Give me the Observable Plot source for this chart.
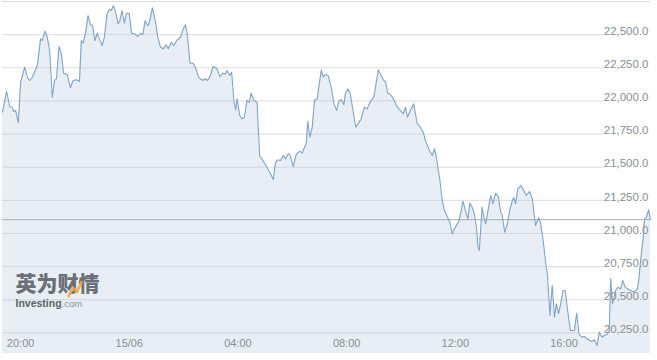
<!DOCTYPE html>
<html>
<head>
<meta charset="utf-8">
<script src="https://cdn.jsdelivr.net/npm/d3@7"></script>
<script src="https://cdn.jsdelivr.net/npm/@observablehq/plot@0.6"></script>
<style>
  html, body { margin: 0; padding: 0; background: #fff; }
  #chart svg { display: block; }
</style>
</head>
<body>
<div id="chart"></div>
<script>
// Intraday session shown on the chart: 14/06 19:20 → 15/06 19:11
const sessionStart = Date.UTC(2023, 5, 14, 19, 20);
const sessionEnd = Date.UTC(2023, 5, 15, 19, 11);

// Minutes elapsed since the session start
const minutes = [0,9,16,21,25,29,35,40,49,55,60,66,77,84,88,94,99,104,110,115,119,125,130,135,143,150,156,163,170,174,178,183,189,194,199,204,209,214,220,225,231,236,240,245,250,255,259,264,269,274,280,285,292,299,305,310,315,320,323,331,338,343,349,355,361,366,373,378,386,393,399,404,408,414,421,426,433,437,443,448,453,459,465,473,480,487,492,496,502,506,511,515,518,524,529,534,540,545,549,555,562,568,573,579,584,592,598,603,608,614,620,625,630,634,642,649,657,662,667,671,674,679,684,689,695,699,704,708,713,719,726,732,738,743,748,754,757,763,768,774,780,785,792,799,805,813,820,830,835,841,846,851,857,863,870,875,879,885,890,894,899,908,916,922,929,934,941,949,954,958,966,971,976,982,988,993,1000,1008,1013,1017,1022,1028,1032,1037,1042,1047,1050,1053,1059,1063,1067,1074,1078,1083,1089,1095,1100,1103,1109,1115,1120,1126,1129,1133,1138,1145,1151,1157,1164,1170,1177,1184,1188,1194,1201,1203,1209,1214,1219,1223,1228,1232,1238,1243,1247,1254,1260,1263,1268,1273,1279,1285,1291,1297,1302,1307,1313,1318,1324,1329,1335,1340,1343,1347,1350,1354,1359,1365,1370,1374,1380,1387,1394,1402,1405,1410,1415,1418,1422,1427,1431];

// Index level at each of those moments
const prices = [21915,22073,21958,21952,21920,21928,21835,22141,22254,22179,22154,22179,22267,22468,22455,22526,22480,22380,22028,22154,22167,22410,22355,22209,22199,22099,22154,22159,22146,22455,22435,22506,22644,22576,22569,22455,22510,22468,22418,22480,22657,22687,22682,22719,22669,22581,22601,22682,22586,22661,22657,22510,22506,22486,22510,22501,22606,22569,22574,22702,22593,22480,22405,22393,22423,22393,22443,22418,22461,22480,22544,22574,22506,22284,22284,22254,22179,22167,22154,22167,22154,22192,22259,22247,22184,22209,22204,22229,22192,22216,22003,21933,22016,21890,21865,21877,22003,21990,22058,22003,21990,21581,21563,21526,21500,21450,21407,21538,21556,21551,21588,21563,21596,21601,21505,21601,21621,21606,21651,21677,21847,21726,21802,22003,22016,22116,22234,22179,22199,22192,22103,21978,21928,22003,22008,21973,22054,22091,22054,21928,21802,21827,21865,21952,21940,21998,22028,22234,22199,22159,22141,22058,22048,22016,21965,21940,21928,21903,21952,21877,21915,21978,21827,21807,21764,21701,21639,21588,21639,21575,21400,21249,21174,21128,21085,20998,21048,21093,21174,21244,21174,21111,21229,21199,21149,21036,20897,20872,21199,21123,21073,21211,21287,21224,21304,21279,21161,21149,21010,21073,21174,21249,21274,21224,21337,21362,21324,21287,21317,21262,21060,21119,21085,20947,20734,20708,20382,20608,20369,20470,20395,20457,20570,20570,20444,20269,20269,20269,20399,20244,20218,20224,20206,20193,20186,20199,20156,20256,20218,20231,20239,20269,20659,20470,20508,20570,20595,20583,20646,20601,20583,20570,20558,20583,20646,20822,20972,21111,21123,21179,21104];

// Latest quote, marked with a horizontal line across the chart
const lastPrice = 21104;

// Price axis
const yBottom = 20095;
const yTop = 22750;
const yTicks = [20250, 20500, 20750, 21000, 21250, 21500, 21750, 22000, 22250, 22500];

// Time axis
const xTickTimes = ["2023-06-14T20:00Z", "2023-06-15T00:00Z", "2023-06-15T04:00Z", "2023-06-15T08:00Z", "2023-06-15T12:00Z", "2023-06-15T16:00Z"];
const xTickLabels = ["20:00", "15/06", "04:00", "08:00", "12:00", "16:00"];

if (minutes.length !== prices.length) {
  throw new Error(`series length mismatch: ${minutes.length} vs ${prices.length}`);
}

const data = minutes.map((m, i) => ({ time: new Date(sessionStart + m * 60000), price: prices[i] }));
const fmt = d3.format(",.1f");
const labelColor = "#8a8f96";

const chart = Plot.plot({
  width: 657,
  height: 360,
  marginLeft: 2,
  marginRight: 7,
  marginTop: 1,
  marginBottom: 7,
  x: { type: "utc", domain: [new Date(sessionStart), new Date(sessionEnd)], axis: null },
  y: { domain: [yBottom, yTop], axis: null },
  style: { fontFamily: "'Liberation Sans', Arial, sans-serif", background: "#ffffff", overflow: "visible" },
  marks: [
    // shaded area under the price
    Plot.areaY(data, { x: "time", y1: yBottom, y2: "price", fill: "#e7eef5" }),
    // horizontal grid
    Plot.ruleY(yTicks, { stroke: "#c4c7cb", strokeOpacity: 0.6, insetRight: 46 }),
    Plot.ruleY([yTop], { stroke: "#c4c7cb", strokeOpacity: 0.6 }),
    // last price line
    Plot.ruleY([lastPrice], { stroke: "#a9adb2", strokeWidth: 1 }),
    // price line
    Plot.line(data, { x: "time", y: "price", stroke: "#7fa5c8", strokeWidth: 1.1 }),
    // price labels, right-aligned inside the frame, sitting on their grid lines
    Plot.text(yTicks, {
      y: d => d, text: d => fmt(d), frameAnchor: "right", textAnchor: "end",
      dx: -2, dy: -3.5, fill: labelColor, fontSize: 11.5
    }),
    // time labels along the bottom of the area
    Plot.text(xTickTimes, {
      x: d => new Date(d), text: xTickLabels, frameAnchor: "bottom",
      dy: -7, fill: labelColor, fontSize: 11
    }),
    // watermark
    Plot.text(["英为财情"], {
      frameAnchor: "bottom-left", textAnchor: "start", dx: 13, dy: -63,
      fontSize: 21, fontWeight: 900, fontFamily: "'Noto Sans CJK SC', sans-serif", fill: "#6b7077"
    }),
    Plot.text(["Investing"], {
      frameAnchor: "bottom-left", textAnchor: "start", dx: 13, dy: -47,
      fontSize: 10.5, fontWeight: 700, fill: "#5d626a"
    }),
    Plot.text([".com"], {
      frameAnchor: "bottom-left", textAnchor: "start", dx: 59, dy: -47,
      fontSize: 9.5, fill: "#8d9299"
    })
  ]
});

// orange zigzag accent of the watermark logo
d3.select(chart).append("path")
  .attr("d", "M68,297 L73,288 L77,292 L82,281")
  .attr("fill", "none")
  .attr("stroke", "#f2a93b")
  .attr("stroke-width", 2.6)
  .attr("stroke-linejoin", "round")
  .attr("opacity", 0.9);

document.getElementById("chart").append(chart);
</script>
</body>
</html>
